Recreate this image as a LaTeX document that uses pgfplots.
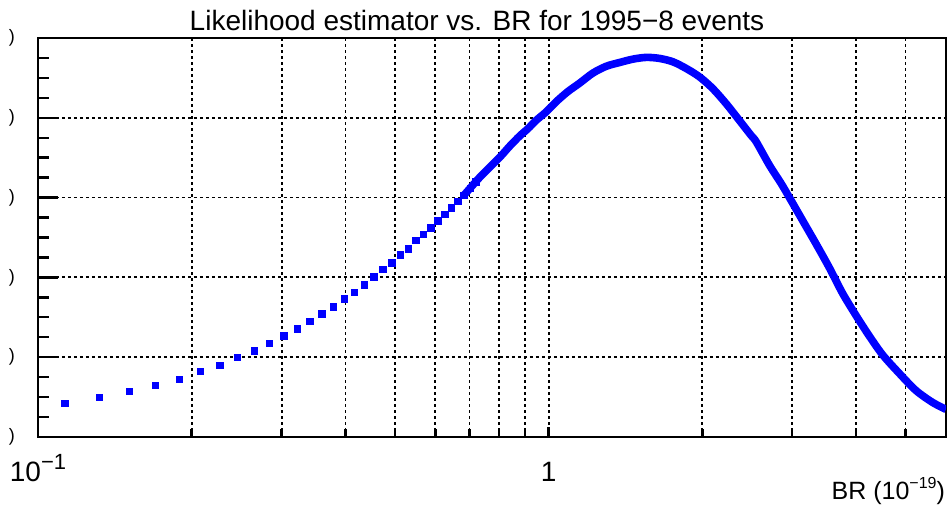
\documentclass[border=0pt]{standalone}
\usepackage{fontspec}
\setmainfont{Liberation Sans}
\usepackage{pgfplots}
\pgfplotsset{compat=1.18}
\usetikzlibrary{calc}
\definecolor{ptblue}{RGB}{0,0,255}

\begin{document}
\begin{tikzpicture}
\begin{axis}[
  scale only axis,
  width=454pt, height=199.5pt,
  xmode=log, xmin=0.1, xmax=6,
  ymin=0, ymax=5,
  xtick={0.1,1},
  xticklabels={10\raisebox{0.45em}{\fontsize{11}{11}\selectfont −1}, 1},
  minor xtick={0.2,0.3,0.4,0.5,0.6,0.7,0.8,0.9,2,3,4,5,6},
  ytick={0,1,2,3,4,5},
  yticklabel={\fontsize{9}{9}\selectfont )},
  minor y tick num=3,
  tick pos=left, tick align=inside,
  major tick length=10pt, minor tick length=5.5pt,
  xtick style={/pgfplots/major tick length=5pt, /pgfplots/minor tick length=4pt},
  xmajorgrids, xminorgrids, ymajorgrids,
  grid style={black, line width=0.9pt, dash pattern=on 1.5pt off 1.5pt},
  minor grid style={black, line width=0.9pt, dash pattern=on 1.5pt off 1.5pt},
  axis line style={line width=1.2pt},
  every tick/.style={black, line width=1.2pt},
  xticklabel style={anchor=base, yshift=-22.5pt, font=\fontsize{14}{14}\selectfont},
  yticklabel style={anchor=east, xshift=-8pt},
  title={Likelihood estimator vs. BR for 1995−8 events},
  title style={at={(0.4835,1)}, anchor=base, yshift=-2.5pt, font=\fontsize{14}{14}\selectfont},
  xlabel={BR (10\raisebox{0.45em}{\fontsize{8}{8}\selectfont −19})},
  xlabel style={at={(1,0)}, anchor=base east, yshift=-31.5pt, xshift=3pt, font=\fontsize{12.5}{12.5}\selectfont},
]
% sparse points, drawn as markers
\addplot[only marks, mark=square*, mark size=1.6pt, ptblue, mark options={draw=ptblue}] coordinates {
(0.113,0.418) (0.132,0.499) (0.151,0.574) (0.170,0.644) (0.189,0.725)
(0.208,0.820) (0.227,0.896) (0.246,1.001) (0.265,1.077) (0.284,1.172)
(0.303,1.269) (0.322,1.357) (0.341,1.448) (0.360,1.545) (0.379,1.629)
(0.398,1.730) (0.417,1.813) (0.436,1.906) (0.455,2.006) (0.474,2.098)
(0.493,2.182) (0.512,2.283) (0.531,2.358) (0.550,2.462) (0.569,2.538)
(0.588,2.622) (0.607,2.710) (0.626,2.789) (0.645,2.873) (0.664,2.949)
(0.683,3.031) (0.702,3.116) (0.721,3.195)
};
% dense part, markers merge into a thick band
\addplot[ptblue, line width=3.8pt, line join=round, smooth] coordinates {
(0.683,3.031) (0.7328,3.253) (0.7726,3.400) (0.8080,3.527) (0.8389,3.644)
(0.8775,3.772) (0.9110,3.864) (0.9461,3.970) (0.9897,4.076) (1.0353,4.203)
(1.0909,4.329) (1.1498,4.434) (1.2213,4.561) (1.2970,4.646) (1.3771,4.693)
(1.4622,4.735) (1.5532,4.757) (1.6492,4.744) (1.7510,4.702) (1.8600,4.618)
(1.9748,4.513) (2.0965,4.366) (2.2267,4.177) (2.3643,3.966) (2.4932,3.777)
(2.5500,3.699) (2.7069,3.405) (2.8537,3.176) (2.962,3.000) (3.145,2.710)
(3.3411,2.418) (3.5473,2.119) (3.7655,1.799) (4.0004,1.521) (4.2474,1.264)
(4.5092,1.029) (4.8642,0.795) (5.2434,0.581) (5.6519,0.432) (6.0,0.346)
};
\end{axis}
\pgfresetboundingbox
\path ($(current axis.south west)+(-19pt,-34.5pt)$) rectangle ($(current axis.north east)+(1.5pt,19pt)$);
\end{tikzpicture}
\end{document}
